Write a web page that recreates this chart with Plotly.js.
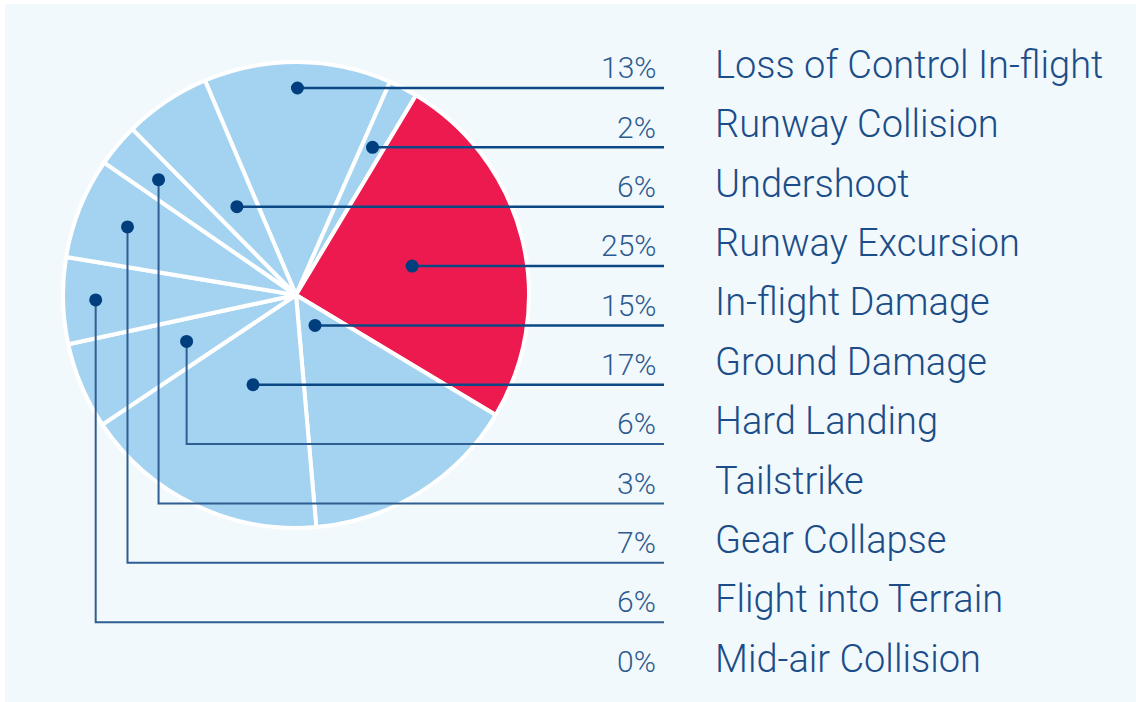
<!DOCTYPE html>
<html><head><meta charset="utf-8">
<script src="https://cdn.plot.ly/plotly-3.0.1.min.js"></script>
<style>html,body{margin:0;padding:0;background:#fff}</style>
</head><body>
<div id="chart" style="width:1136px;height:702px"></div>
<script>
// ---- data ----
const categories = ['Loss of Control In-flight','Runway Collision','Undershoot','Runway Excursion','In-flight Damage','Ground Damage','Hard Landing','Tailstrike','Gear Collapse','Flight into Terrain','Mid-air Collision'];
const shares = [13, 2, 6, 25, 15, 17, 6, 3, 7, 6, 0];
const percentLabels = ['13%','2%','6%','25%','15%','17%','6%','3%','7%','6%','0%'];
const pieOrder = ['Loss of Control In-flight','Runway Collision','Runway Excursion','In-flight Damage','Ground Damage','Hard Landing','Flight into Terrain','Gear Collapse','Tailstrike','Undershoot'];
const highlighted = ['Runway Excursion'];

// ---- style / layout constants ----
const W = 1136, H = 702;
const PIE = {cx: 296, cy: 295, r: 233, rotation: -23};
const ROW = {lineY0: 88, step: 59.35, lineEndX: 664, pctRight: 658, labelLeft: 713};
const vLeader = {'Hard Landing': 0.51, 'Tailstrike': 0.77, 'Gear Collapse': 0.78, 'Flight into Terrain': 0.86};
const COL = {blue: '#A3D3F0', red: '#EC1A4F', panel: '#F2F9FD', dot: '#003E7E', line: '#0B4884', lineLight: '#2F5E92', label: '#1B4D88', pct: '#2D5B90'};
const FONT = 'Roboto, "Liberation Sans", Arial, sans-serif';
const LABEL_SIZE = 38, PCT_SIZE = 30;

const pieValues = pieOrder.map(n => shares[categories.indexOf(n)]);
const pieColors = pieOrder.map(n => highlighted.includes(n) ? COL.red : COL.blue);

const pieTrace = {
  type: 'pie', labels: pieOrder, values: pieValues, sort: false,
  direction: 'clockwise', rotation: PIE.rotation,
  marker: {colors: pieColors, line: {color: '#ffffff', width: 4}},
  textinfo: 'none', hoverinfo: 'none', showlegend: false,
  domain: {x: [(PIE.cx - PIE.r) / W, (PIE.cx + PIE.r) / W], y: [1 - (PIE.cy + PIE.r) / H, 1 - (PIE.cy - PIE.r) / H]}
};
const axisHolder = {type: 'scatter', x: [], y: [], showlegend: false, hoverinfo: 'skip'};

const shapes = [{type: 'rect', xref: 'x', yref: 'y', x0: 5, x1: W, y0: 4, y1: H, fillcolor: COL.panel, line: {width: 0}, layer: 'below'}];

const total = pieValues.reduce((a, b) => a + b, 0);
let cum = 0;
pieOrder.forEach((name, i) => {
  const v = pieValues[i];
  const th = (PIE.rotation + (cum + v / 2) * 360 / total) * Math.PI / 180;
  cum += v;
  const row = categories.indexOf(name);
  const rowY = ROW.lineY0 + row * ROW.step;
  let dx, dy, path, lc, lw;
  if (vLeader[name] !== undefined) {
    const rr = vLeader[name] * PIE.r;
    dx = PIE.cx + rr * Math.sin(th); dy = PIE.cy - rr * Math.cos(th);
    path = `M${dx},${dy} L${dx},${rowY} L${ROW.lineEndX},${rowY}`;
    lc = COL.lineLight; lw = 2;
  } else {
    const rr = (PIE.cy - rowY) / Math.cos(th);
    dx = PIE.cx + rr * Math.sin(th); dy = rowY;
    path = `M${dx},${dy} L${ROW.lineEndX},${rowY}`;
    lc = COL.line; lw = 2.5;
  }
  shapes.push({type: 'path', xref: 'x', yref: 'y', path: path, line: {color: lc, width: lw}, layer: 'above'});
  shapes.push({type: 'circle', xref: 'x', yref: 'y', xsizemode: 'pixel', ysizemode: 'pixel', xanchor: dx, yanchor: dy,
    x0: -6.5, x1: 6.5, y0: -6.5, y1: 6.5, fillcolor: COL.dot, line: {width: 0}, layer: 'above'});
});

const annotations = [];
categories.forEach((name, i) => {
  const base = ROW.lineY0 + i * ROW.step - 10;
  annotations.push({xref: 'x', yref: 'y', x: ROW.pctRight, y: base - 0.34 * PCT_SIZE, xanchor: 'right', yanchor: 'middle',
    text: percentLabels[i], showarrow: false, font: {family: FONT, size: PCT_SIZE, color: COL.pct, weight: 300}});
  annotations.push({xref: 'x', yref: 'y', x: ROW.labelLeft, y: base - 0.34 * LABEL_SIZE, xanchor: 'left', yanchor: 'middle',
    text: name, showarrow: false, font: {family: FONT, size: LABEL_SIZE, color: COL.label, weight: 300}});
});

const layout = {
  width: W, height: H, margin: {l: 0, r: 0, t: 0, b: 0, pad: 0},
  paper_bgcolor: '#ffffff', plot_bgcolor: 'rgba(0,0,0,0)',
  xaxis: {range: [0, W], visible: false, fixedrange: true},
  yaxis: {range: [H, 0], visible: false, fixedrange: true},
  shapes: shapes, annotations: annotations, showlegend: false
};
Plotly.newPlot('chart', [axisHolder, pieTrace], layout, {displayModeBar: false, staticPlot: true});
</script>
</body></html>
